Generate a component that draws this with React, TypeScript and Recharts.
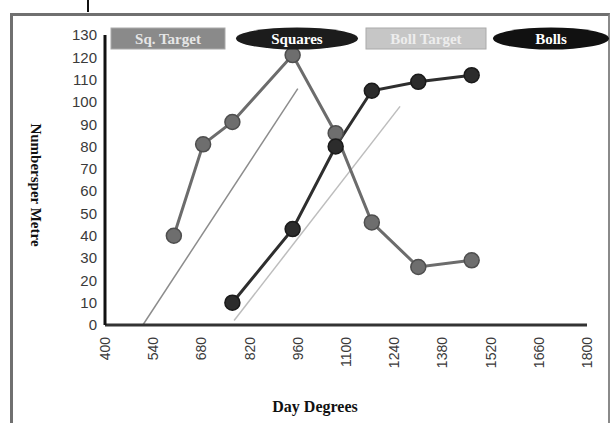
import { LineChart, Line, XAxis, YAxis } from 'recharts';

// day degrees at which counts were taken
const squareDays = [600, 685, 770, 945, 1070, 1175, 1310, 1465];
const squareCounts = [40, 81, 91, 121, 86, 46, 26, 29];
const bollDays = [770, 945, 1070, 1175, 1310, 1465];
const bollCounts = [10, 43, 80, 105, 109, 112];
const sqTargetDays = [510, 960];
const sqTargetCounts = [0, 106];
const bollTargetDays = [775, 1257];
const bollTargetCounts = [2, 98];

const xTicks = [400, 540, 680, 820, 960, 1100, 1240, 1380, 1520, 1660, 1800];
const yTicks = [0, 10, 20, 30, 40, 50, 60, 70, 80, 90, 100, 110, 120, 130];

const legendItems = [
  { name: 'Sq. Target', shape: 'rect', fill: '#8a8a8a', text: '#e6e6e6', x: 111, w: 114 },
  { name: 'Squares', shape: 'ellipse', fill: '#1c1c1c', text: '#ffffff', x: 236, w: 122 },
  { name: 'Boll Target', shape: 'rect', fill: '#c6c6c6', text: '#ededed', x: 366, w: 120 },
  { name: 'Bolls', shape: 'ellipse', fill: '#111111', text: '#ffffff', x: 493, w: 116 },
];

const zip = (xs: number[], ys: number[]) => xs.map((x, i) => ({ x, y: ys[i] }));

const squares = zip(squareDays, squareCounts);
const bolls = zip(bollDays, bollCounts);
const sqTarget = zip(sqTargetDays, sqTargetCounts);
const bollTarget = zip(bollTargetDays, bollTargetCounts);

const serif = '"Liberation Serif", "DejaVu Serif", serif';
const sans = '"Liberation Sans", Arial, sans-serif';

const XTick = ({ x, y, payload }: any) => (
  <text
    transform={`translate(${x}, ${y + 4}) rotate(-90)`}
    textAnchor="end"
    dominantBaseline="central"
    fontFamily={sans}
    fontSize={14}
    fill="#3a3a3a"
  >
    {payload.value}
  </text>
);

export default function App() {
  return (
    <div style={{ position: 'absolute', left: 0, top: 0, width: 610, height: 423, background: '#fff', overflow: 'hidden' }}>
      {/* frame */}
      <div style={{ position: 'absolute', left: 10, top: 13, width: 595, height: 420, borderLeft: '3px solid #707070', borderTop: '3px solid #707070', borderRight: '2px solid #8a8a8a' }} />
      <div style={{ position: 'absolute', left: 87, top: 0, width: 2, height: 12, background: '#111' }} />

      <div style={{ position: 'absolute', left: 0, top: 0 }}>
        <LineChart width={610} height={423} margin={{ top: 35, right: 23, left: 45, bottom: 58 }}>
          <XAxis
            type="number"
            dataKey="x"
            domain={[400, 1800]}
            ticks={xTicks}
            tickLine={false}
            height={40}
            axisLine={{ stroke: '#333', strokeWidth: 3 }}
            tick={<XTick />}
            interval={0}
          />
          <YAxis
            type="number"
            dataKey="y"
            domain={[0, 130]}
            ticks={yTicks}
            width={60}
            tickLine={false}
            interval={0}
            axisLine={{ stroke: '#111', strokeWidth: 3 }}
            tick={{ fontFamily: sans, fontSize: 15, fill: '#3a3a3a' }}
          />
          <Line data={sqTarget} dataKey="y" type="linear" stroke="#8c8c8c" strokeWidth={1.5} dot={false} isAnimationActive={false} />
          <Line data={bollTarget} dataKey="y" type="linear" stroke="#bdbdbd" strokeWidth={1.5} dot={false} isAnimationActive={false} />
          <Line
            data={squares}
            dataKey="y"
            type="linear"
            stroke="#6c6c6c"
            strokeWidth={3}
            dot={{ r: 7.5, fill: '#6e6e6e', stroke: '#4e4e4e', strokeWidth: 1.5 }}
            isAnimationActive={false}
          />
          <Line
            data={bolls}
            dataKey="y"
            type="linear"
            stroke="#2e2e2e"
            strokeWidth={3}
            dot={{ r: 7.5, fill: '#2c2c2c', stroke: '#1a1a1a', strokeWidth: 1.5 }}
            isAnimationActive={false}
          />
        </LineChart>
      </div>

      {/* legend */}
      <svg style={{ position: 'absolute', left: 0, top: 0 }} width={610} height={60}>
        {legendItems.map((it) => (
          <g key={it.name}>
            {it.shape === 'rect' ? (
              <rect x={it.x} y={28} width={it.w} height={21} fill={it.fill} stroke="#aaa" strokeWidth={1} />
            ) : (
              <ellipse cx={it.x + it.w / 2} cy={38.5} rx={it.w / 2} ry={11} fill={it.fill} />
            )}
            <text
              x={it.x + it.w / 2}
              y={39}
              textAnchor="middle"
              dominantBaseline="central"
              fontFamily={serif}
              fontWeight="bold"
              fontSize={15}
              fill={it.text}
            >
              {it.name}
            </text>
          </g>
        ))}
      </svg>

      <div
        style={{
          position: 'absolute',
          left: 35,
          top: 185,
          transform: 'translate(-50%, -50%) rotate(90deg)',
          fontFamily: serif,
          fontWeight: 'bold',
          fontSize: 15,
          color: '#111',
          whiteSpace: 'nowrap',
        }}
      >
        Numbersper Metre
      </div>
      <div
        style={{
          position: 'absolute',
          left: 315,
          top: 407,
          transform: 'translate(-50%, -50%)',
          fontFamily: serif,
          fontWeight: 'bold',
          fontSize: 16,
          color: '#111',
          whiteSpace: 'nowrap',
        }}
      >
        Day Degrees
      </div>
    </div>
  );
}
